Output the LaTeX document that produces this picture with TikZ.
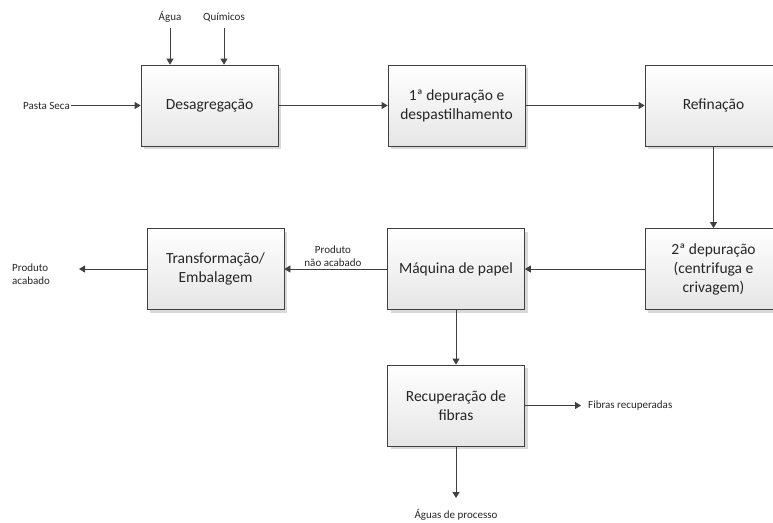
\documentclass[tikz,border=0pt]{standalone}
\usepackage{fontspec}
\setmainfont{Carlito}
\usetikzlibrary{arrows.meta,shadows}
\definecolor{ln}{HTML}{404040}
\begin{document}
\begin{tikzpicture}[x=1pt,y=-1pt,
  box/.style={draw=ln, line width=0.8pt, minimum width=137pt, minimum height=81pt,
    top color=white, bottom color=black!10, align=center, text=black!85,
    font=\fontsize{15.5}{19}\selectfont,
    drop shadow={shadow xshift=3pt, shadow yshift=-3pt, fill=black!25, opacity=0.6}},
  lbl/.style={font=\fontsize{11}{13.5}\selectfont, text=black!85, inner sep=1pt},
  conn/.style={draw=ln, line width=0.8pt, -{Triangle[length=6pt,width=7pt]}}]
\useasboundingbox (0,0) rectangle (773,522);
\begin{scope}
\clip (0,0) rectangle (773,522);
\node[box] (des) at (209.5,105.5) {Desagregação};
\node[box] (dep1) at (456.5,105.5) {1ª depuração e\\despastilhamento};
\node[box] (ref) at (713.5,105.5) {Refinação};
\node[box] (dep2) at (713.5,269) {2ª depuração\\(centrifuga e\\crivagem)};
\node[box] (maq) at (456,269) {Máquina de papel};
\node[box] (tra) at (215.5,269) {Transformação/\\Embalagem};
\node[box] (rec) at (456,405.5) {Recuperação de\\fibras};
\end{scope}

\node[lbl] (agua) at (170,17) {Água};
\node[lbl] (quim) at (224,17) {Químicos};
\node[lbl, anchor=east] (pasta) at (71,105.5) {Pasta Seca};
\node[lbl, anchor=west, align=left] (pacab) at (11,274) {Produto\\acabado};
\node[lbl, anchor=west] (fibr) at (587,405.5) {Fibras recuperadas};
\node[lbl] (aguas) at (456,515) {Águas de processo};

\coordinate (aguaE) at (170,28);
\coordinate (quimE) at (224,28);
\coordinate (pacE) at (79,269);
\coordinate (fibE) at (581,405.5);
\coordinate (aguasE) at (456,498);

\draw[conn] (aguaE) -- (aguaE |- des.north);
\draw[conn] (quimE) -- (quimE |- des.north);
\draw[conn] (pasta.east) -- (des.west);
\draw[conn] (des.east) -- (dep1.west);
\draw[conn] (dep1.east) -- (ref.west);
\draw[conn] (ref.south) -- (dep2.north);
\draw[conn] (dep2.west) -- (maq.east);
\draw[conn] (maq.west) -- (tra.east);
\node[lbl, fill=white, align=center, inner sep=1.5pt] (pnac) at (333,256) {Produto\\não acabado};
\draw[conn] (tra.west) -- (pacE);
\draw[conn] (maq.south) -- (rec.north);
\draw[conn] (rec.east) -- (fibE);
\draw[conn] (rec.south) -- (aguasE);
\end{tikzpicture}
\end{document}
